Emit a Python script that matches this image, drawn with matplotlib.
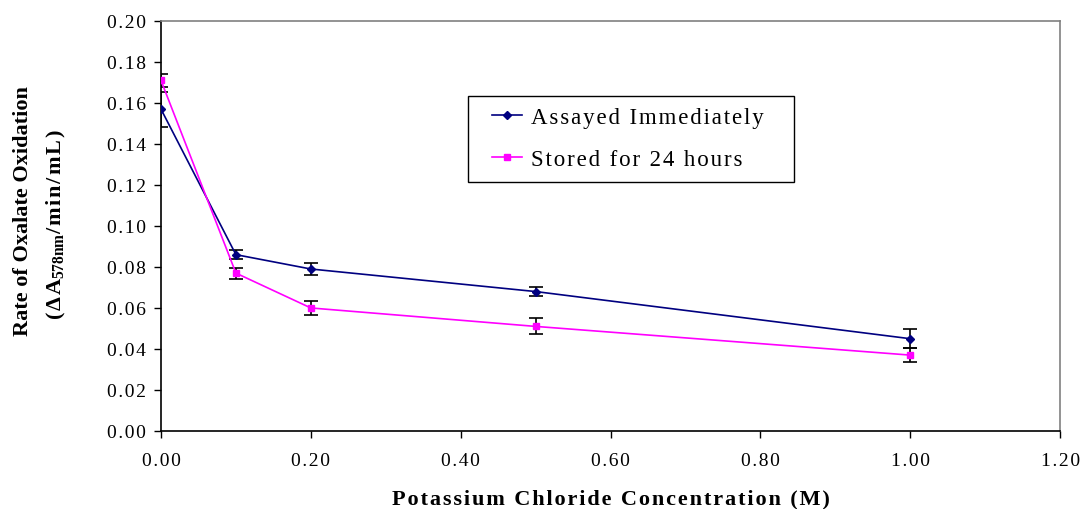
import matplotlib
matplotlib.use("Agg")
import matplotlib.pyplot as plt
from matplotlib.ticker import MultipleLocator, FuncFormatter
from matplotlib.legend_handler import HandlerLine2D

###############################################################################
# Data
kcl_conc = [0.0, 0.1, 0.2, 0.5, 1.0]

assayed_rate = [0.157, 0.086, 0.079, 0.068, 0.045]
assayed_err = [0.0085, 0.0022, 0.0028, 0.0022, 0.0047]

stored_rate = [0.171, 0.077, 0.060, 0.051, 0.037]
stored_err = [0.0033, 0.0027, 0.0036, 0.0039, 0.0035]

series_names = ["Assayed Immediately", "Stored for 24 hours"]

###############################################################################
plt.rcParams['font.family'] = ['Liberation Serif', 'DejaVu Serif']
plt.rcParams['mathtext.fontset'] = 'custom'
plt.rcParams['mathtext.rm'] = 'Liberation Serif:bold'
plt.rcParams['mathtext.bf'] = 'Liberation Serif:bold'
plt.rcParams['mathtext.default'] = 'bf'

HS = '\u200a'  # hair space, fakes the wide letter spacing of the original


def spaced(s):
    return HS.join(s)


fig = plt.figure(figsize=(10.84, 5.10), dpi=100)
ax = fig.add_axes([0.1485, 0.153, 0.8295, 0.804])

navy = '#000080'
magenta = '#FF00FF'

ax.errorbar(kcl_conc, assayed_rate, yerr=assayed_err, fmt='none',
            ecolor='black', elinewidth=1.2, capsize=5, capthick=1.2, zorder=3)
ax.errorbar(kcl_conc, stored_rate, yerr=stored_err, fmt='none',
            ecolor='black', elinewidth=1.2, capsize=5, capthick=1.2, zorder=3)

l1, = ax.plot(kcl_conc, assayed_rate, color=navy, lw=1.2, marker='D', ms=4,
              label=spaced(series_names[0]), zorder=4)
l2, = ax.plot(kcl_conc, stored_rate, color=magenta, lw=1.2, marker='s', ms=5,
              label=spaced(series_names[1]), zorder=4)

ax.set_xlim(0, 1.2)
ax.set_ylim(0, 0.2)
ax.xaxis.set_major_locator(MultipleLocator(0.2))
ax.yaxis.set_major_locator(MultipleLocator(0.02))
ax.xaxis.set_major_formatter(FuncFormatter(lambda v, p: spaced("%.2f" % v)))
ax.yaxis.set_major_formatter(FuncFormatter(lambda v, p: spaced("%.2f" % v)))
ax.tick_params(direction='out', length=5, width=1, labelsize=14, colors='black')
ax.tick_params(axis='x', pad=10)
ax.tick_params(axis='y', pad=6)

ax.spines['left'].set_color('black')
ax.spines['bottom'].set_color('black')
ax.spines['top'].set_color('#808080')
ax.spines['right'].set_color('#808080')
for s in ax.spines.values():
    s.set_linewidth(1.2)

ax.set_xlabel(spaced("Potassium Chloride Concentration (M)"),
              fontsize=16, fontweight='bold', labelpad=14)

# two-line y label, drawn as separate texts
fig.text(0.021, 0.586, "Rate of Oxalate Oxidation", rotation=90,
         fontsize=16, fontweight='bold', ha='center', va='center')
fig.text(0.052, 0.56,
         spaced("(\u0394A") + "$_{578nm}$" + spaced("/min/mL)"),
         rotation=90, fontsize=16, fontweight='bold', ha='center', va='center')

# legend box: fixed width, handle pushed in from the left edge
hmap = {l1: HandlerLine2D(xpad=0.55), l2: HandlerLine2D(xpad=0.55)}
leg = ax.legend(handler_map=hmap, loc='upper left',
                bbox_to_anchor=(0.3415, 0.61, 0.3625, 0.207), mode='expand',
                fontsize=16.5, frameon=True, fancybox=False, framealpha=1,
                edgecolor='black', borderpad=0.5, handlelength=1.85,
                handletextpad=0.4, labelspacing=0.9, borderaxespad=0)
leg.get_frame().set_linewidth(1.0)

fig.savefig("out.png", dpi=100)
